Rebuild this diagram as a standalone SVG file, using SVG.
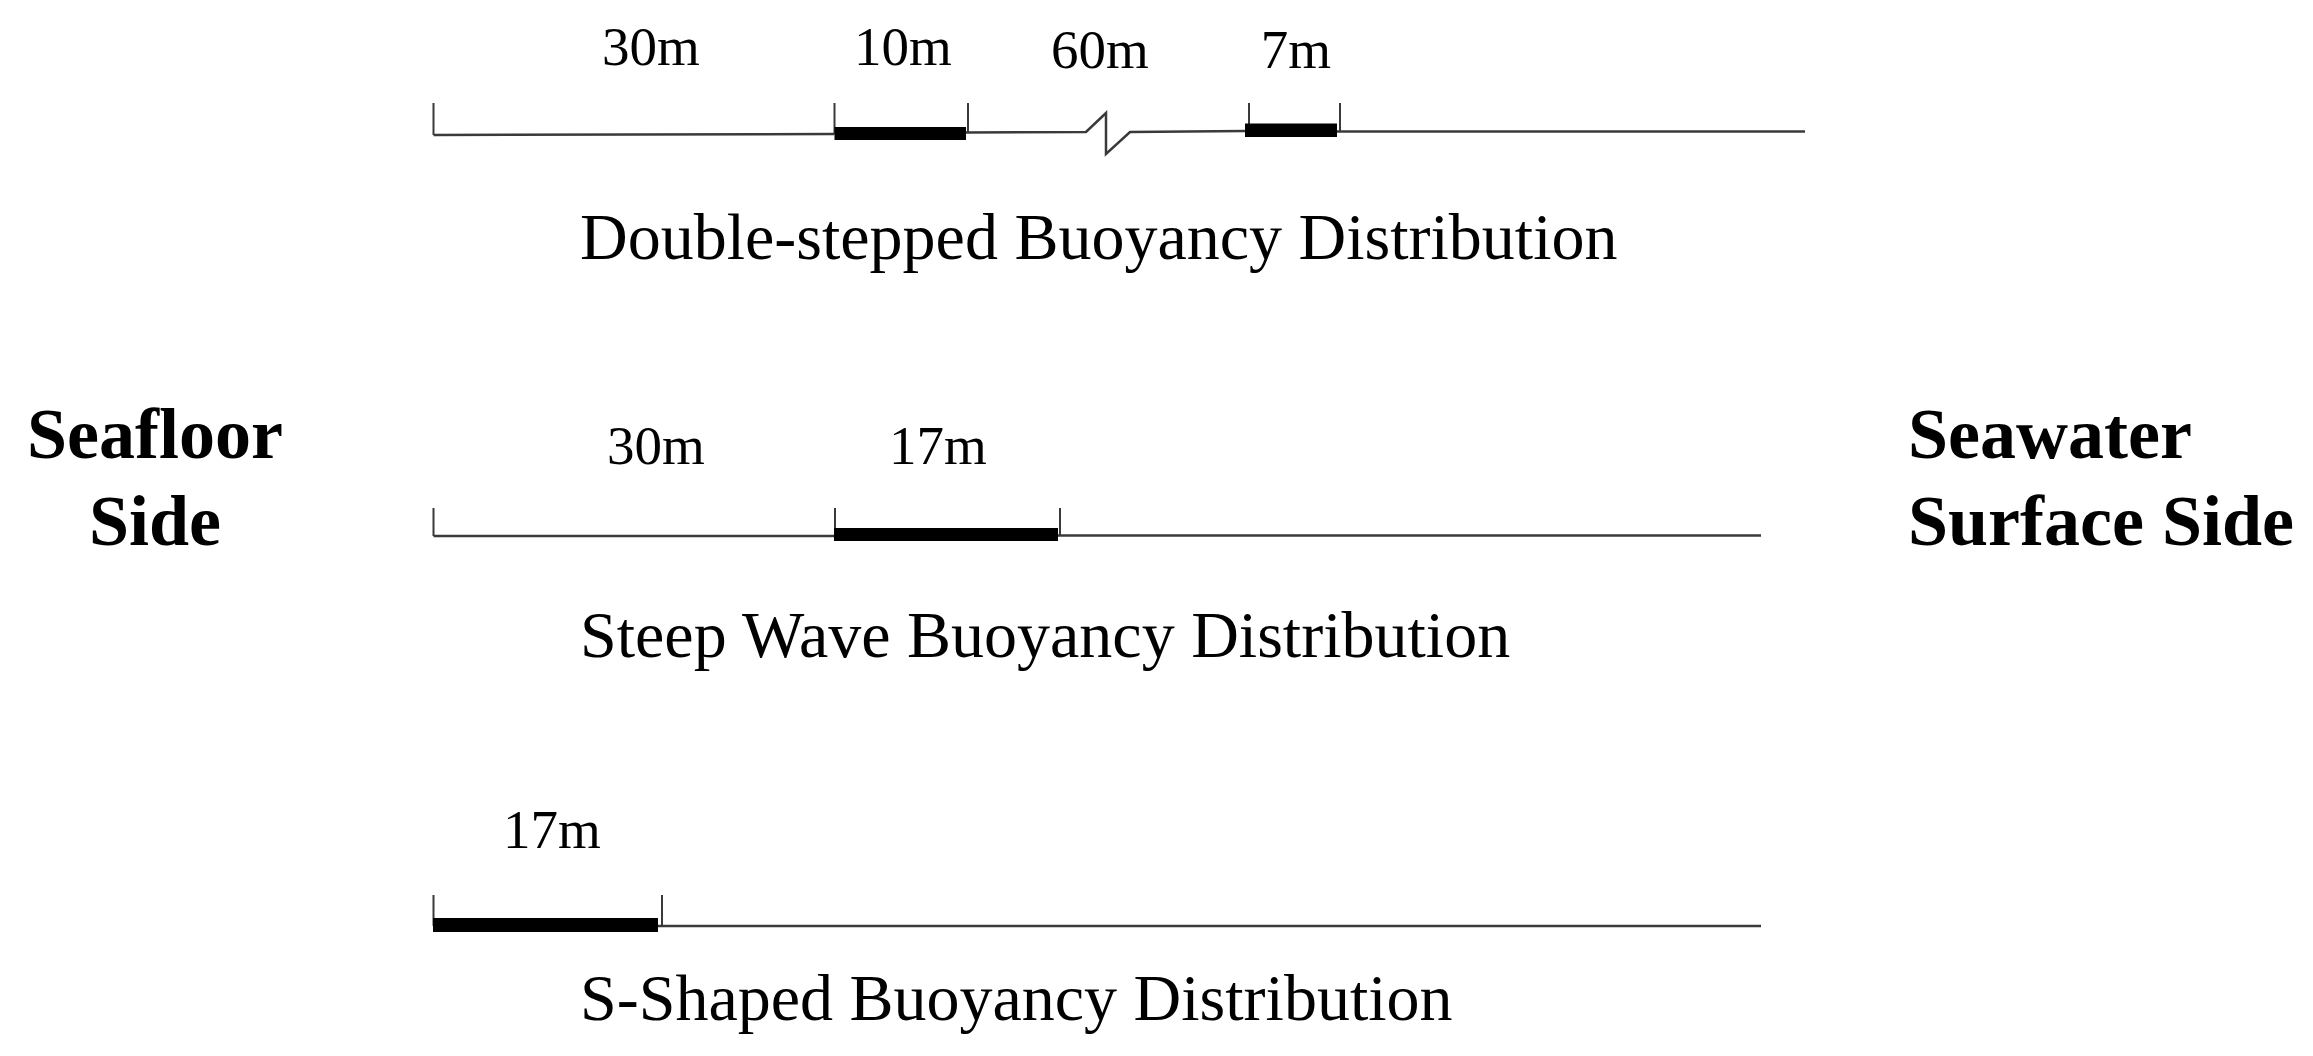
<svg xmlns="http://www.w3.org/2000/svg" width="2313" height="1056" viewBox="0 0 2313 1056">
<style>
.ln{stroke:#3a3a3a;stroke-width:2.5;fill:none}
.tk{stroke:#3a3a3a;stroke-width:2;fill:none}
.bar{fill:#000}
.lbl{font-family:"Liberation Serif","Times New Roman",serif;font-size:55px;fill:#000;text-anchor:middle}
.ttl{font-family:"Liberation Serif","Times New Roman",serif;font-size:66px;fill:#000}
.side{font-family:"Liberation Serif","Times New Roman",serif;font-size:72px;font-weight:bold;fill:#000}
</style>
<rect width="2313" height="1056" fill="#fff"/>
<g id="side-labels">
<g id="seafloor"><text class="side" x="155" y="458" text-anchor="middle">Seafloor</text><text class="side" x="155" y="545" text-anchor="middle">Side</text></g>
<g id="surface"><text class="side" x="1908" y="458">Seawater</text><text class="side" x="1908" y="545">Surface Side</text></g>
</g>
<g id="double-stepped">
<path class="tk" d="M433.5,103V135M834.5,103V134M968,103V133M1249,103V131M1340,103V132"/>
<path class="ln" d="M433.5,135L834.5,134"/>
<rect class="bar" x="834.5" y="127" width="131.5" height="13"/>
<path class="ln" d="M966,132.5L1086,132L1106,113L1106,154L1130,132L1245,131"/>
<rect class="bar" x="1245" y="123.5" width="92" height="13.5"/>
<path class="ln" d="M1337,131.5L1805,131.5"/>
<text class="lbl" x="651" y="65">30m</text>
<text class="lbl" x="903" y="65">10m</text>
<text class="lbl" x="1100" y="68">60m</text>
<text class="lbl" x="1296" y="68">7m</text>
<text class="ttl" x="580" y="259">Double-stepped Buoyancy Distribution</text>
</g>
<g id="steep-wave">
<path class="tk" d="M433.5,508V536M835,508V534M1060,508V535"/>
<path class="ln" d="M433.5,536L834,536"/>
<rect class="bar" x="834" y="528" width="224" height="13"/>
<path class="ln" d="M1058,535.5L1761,535.5"/>
<text class="lbl" x="656" y="464">30m</text>
<text class="lbl" x="938" y="464">17m</text>
<text class="ttl" x="580" y="657">Steep Wave Buoyancy Distribution</text>
</g>
<g id="s-shaped">
<path class="tk" d="M433.5,895V926M662,895V925"/>
<rect class="bar" x="433" y="918" width="225" height="14"/>
<path class="ln" d="M658,926L1761,926"/>
<text class="lbl" x="552" y="848">17m</text>
<text class="ttl" x="580" y="1020">S-Shaped Buoyancy Distribution</text>
</g>
<g id="connectors"></g>
</svg>
